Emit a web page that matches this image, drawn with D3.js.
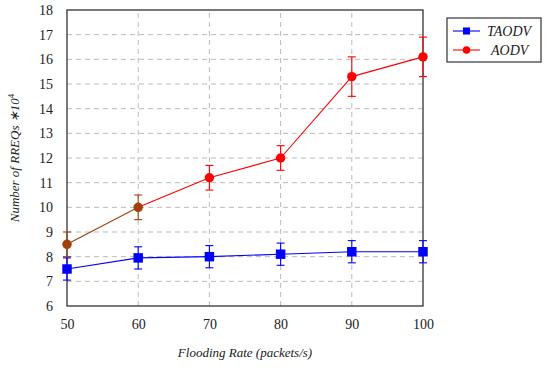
<!DOCTYPE html>
<html>
<head>
<meta charset="utf-8">
<script src="https://cdn.jsdelivr.net/npm/d3@7"></script>
<style>
  body { margin: 0; background: #fff; }
  svg text { font-family: "Liberation Serif", serif !important; }
</style>
</head>
<body>
<svg id="chart"></svg>
<script>
// data
const rates = [50, 60, 70, 80, 90, 100];
const taodv = [7.5, 7.95, 8.0, 8.1, 8.2, 8.2];
const taodvErr = [0.45, 0.45, 0.45, 0.45, 0.45, 0.45];
const aodv = [8.5, 10.0, 11.2, 12.0, 15.3, 16.1];
const aodvErr = [0.5, 0.5, 0.5, 0.5, 0.8, 0.8];
const yTicks = [6, 7, 8, 9, 10, 11, 12, 13, 14, 15, 16, 17, 18];

const W = 550, H = 368;
const margin = { left: 67, right: 127, top: 10, bottom: 62 };

const svg = d3.select("#chart").attr("width", W).attr("height", H);

const x = d3.scaleLinear().domain([50, 100]).range([margin.left, W - margin.right]);
const y = d3.scaleLinear().domain([6, 18]).range([H - margin.bottom, margin.top]);

// grid lines
const grid = svg.append("g")
  .attr("stroke", "#bbb").attr("stroke-dasharray", "5,4").attr("stroke-width", 1);
grid.selectAll("line.h").data(yTicks.slice(1, -1)).join("line")
  .attr("x1", x(50)).attr("x2", x(100))
  .attr("y1", d => y(d)).attr("y2", d => y(d));
grid.selectAll("line.v").data(rates.slice(1, -1)).join("line")
  .attr("y1", y(6)).attr("y2", y(18))
  .attr("x1", d => x(d)).attr("x2", d => x(d));

// axes
const xAxis = svg.append("g").attr("transform", `translate(0,${y(6)})`)
  .call(d3.axisBottom(x).tickValues(rates).tickSize(0).tickPadding(13));
const yAxis = svg.append("g").attr("transform", `translate(${x(50)},0)`)
  .call(d3.axisLeft(y).tickValues(yTicks).tickSize(0).tickPadding(14));
[xAxis, yAxis].forEach(a => {
  a.attr("font-family", "Liberation Serif").attr("font-size", 14);
  a.select(".domain").remove();
  a.selectAll("text").attr("fill", "#222");
});

// frame
svg.append("rect")
  .attr("x", x(50)).attr("y", y(18))
  .attr("width", x(100) - x(50)).attr("height", y(6) - y(18))
  .attr("fill", "none").attr("stroke", "#333").attr("stroke-width", 1.3);

// series
function drawSeries(vals, errs, colors, shape) {
  const g = svg.append("g");
  const pts = rates.map((r, i) => ({ r, v: vals[i], e: errs[i], c: colors[i] }));
  const segs = d3.pairs(pts);
  g.selectAll("line.seg").data(segs).join("line")
    .attr("stroke", d => d[1].c).attr("stroke-width", 1.1)
    .attr("x1", d => x(d[0].r)).attr("y1", d => y(d[0].v))
    .attr("x2", d => x(d[1].r)).attr("y2", d => y(d[1].v));
  const eb = g.selectAll("g.err").data(pts).join("g")
    .attr("stroke", d => d.c).attr("stroke-width", 1.1);
  eb.append("line")
    .attr("x1", d => x(d.r)).attr("x2", d => x(d.r))
    .attr("y1", d => y(d.v - d.e)).attr("y2", d => y(d.v + d.e));
  eb.append("line")
    .attr("x1", d => x(d.r) - 4).attr("x2", d => x(d.r) + 4)
    .attr("y1", d => y(d.v - d.e)).attr("y2", d => y(d.v - d.e));
  eb.append("line")
    .attr("x1", d => x(d.r) - 4).attr("x2", d => x(d.r) + 4)
    .attr("y1", d => y(d.v + d.e)).attr("y2", d => y(d.v + d.e));
  const sym = d3.symbol().type(shape).size(shape === d3.symbolSquare ? 90 : 70);
  g.selectAll("path.m").data(pts).join("path")
    .attr("transform", d => `translate(${x(d.r)},${y(d.v)})`)
    .attr("d", sym).attr("fill", d => d.c);
}
// the first two AODV points show as brown in the figure
const aodvColors = ["#a0400c", "#a0400c", "#ff0000", "#ff0000", "#ff0000", "#ff0000"];
const taodvColors = rates.map(() => "#0000ff");
drawSeries(aodv, aodvErr, aodvColors, d3.symbolCircle);
drawSeries(taodv, taodvErr, taodvColors, d3.symbolSquare);

// axis titles
svg.append("text")
  .attr("x", (x(50) + x(100)) / 2).attr("y", 357)
  .attr("text-anchor", "middle").attr("font-size", 13).attr("font-style", "italic")
  .attr("fill", "#222")
  .text("Flooding Rate (packets/s)");

const yl = svg.append("text")
  .attr("transform", `translate(19,${(y(6) + y(18)) / 2}) rotate(-90)`)
  .attr("text-anchor", "middle").attr("font-size", 13).attr("font-style", "italic")
  .attr("fill", "#222");
yl.append("tspan").text("Number of RREQs ∗10");
yl.append("tspan").attr("dy", -5).attr("font-size", 9).attr("font-style", "normal").text("4");

// legend
const leg = svg.append("g").attr("transform", "translate(447,18)");
leg.append("rect").attr("width", 94).attr("height", 44)
  .attr("fill", "#fff").attr("stroke", "#333").attr("stroke-width", 1.2);
const legItems = [
  { name: "TAODV", color: "#0000ff", shape: d3.symbolSquare, sz: 50 },
  { name: "AODV", color: "#ff0000", shape: d3.symbolCircle, sz: 45 }
];
legItems.forEach((it, i) => {
  const cy = 13 + i * 19;
  leg.append("line").attr("x1", 6).attr("x2", 33).attr("y1", cy).attr("y2", cy)
    .attr("stroke", it.color).attr("stroke-width", 1.1);
  leg.append("path").attr("transform", `translate(19.5,${cy})`)
    .attr("d", d3.symbol().type(it.shape).size(it.sz)).attr("fill", it.color);
  leg.append("text").attr("x", i === 0 ? 40 : 44).attr("y", cy + 4.5)
    .attr("font-size", 14).attr("font-style", "italic").attr("fill", "#222")
    .text(it.name);
});
</script>
</body>
</html>
